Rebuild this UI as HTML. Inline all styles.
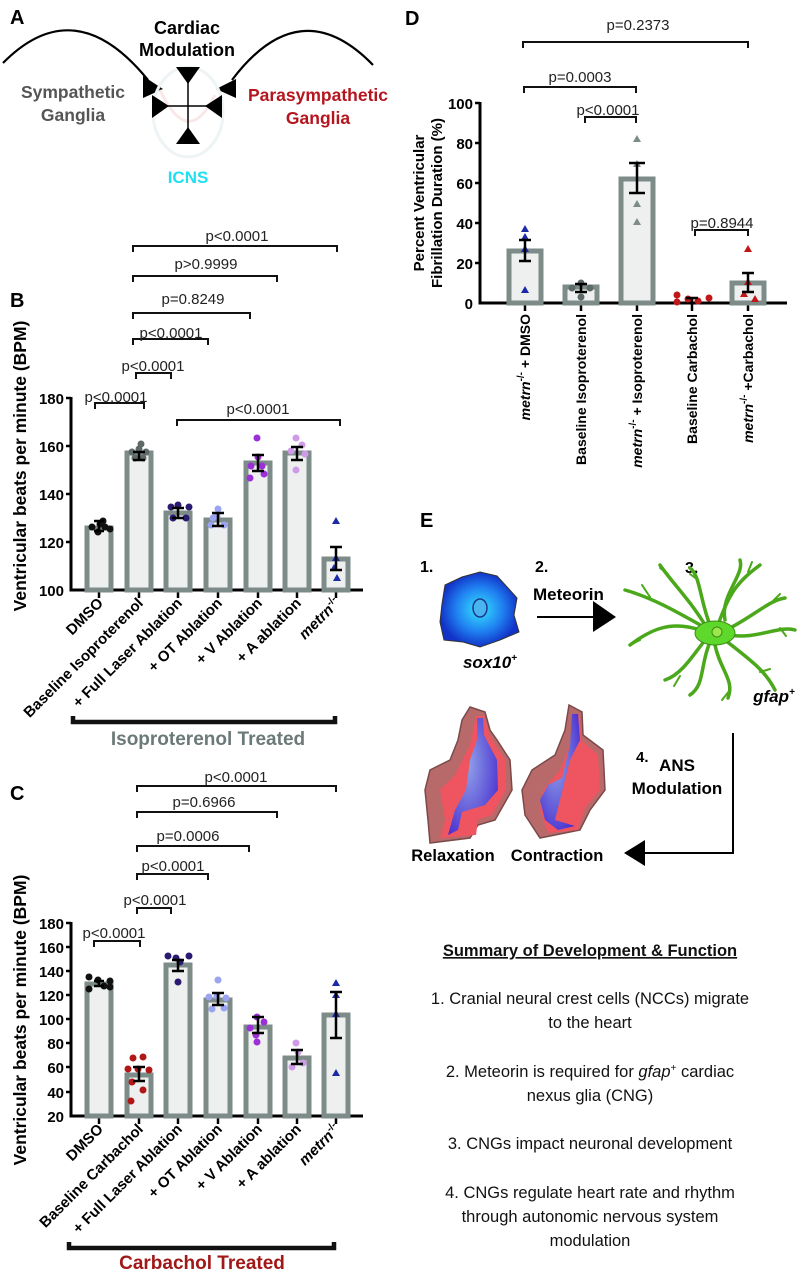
<!DOCTYPE html>
<html><head><meta charset="utf-8"><style>
html,body{margin:0;padding:0;background:#fff}
svg{display:block}
text{font-family:"Liberation Sans",Arial,sans-serif}
.b{font-weight:bold}
.p{font-size:15px;fill:#222}
.tk{font-size:15px;font-weight:bold;text-anchor:end}
.xl{font-size:15px;font-weight:bold;text-anchor:end}
.xd{font-size:14px;font-weight:bold;text-anchor:end}
.br{fill:none;stroke:#111;stroke-width:2}
.bar{fill:#eef0f0;stroke:#7d8b89;stroke-width:5}
.eb{stroke:#000;stroke-width:2.5;fill:none}
.ax{stroke:#000;stroke-width:3;fill:none}
.s{font-size:16.5px;text-anchor:middle;fill:#111}
</style></head><body>
<svg width="800" height="1279" viewBox="0 0 800 1279" xmlns="http://www.w3.org/2000/svg">
<defs>
<radialGradient id="cell" cx="50%" cy="50%" r="50%"><stop offset="0" stop-color="#35e4ff"/><stop offset="0.6" stop-color="#1f7ff0"/><stop offset="1" stop-color="#1233c8"/></radialGradient>
<radialGradient id="blu" cx="40%" cy="40%" r="70%"><stop offset="0" stop-color="#8fa2e8"/><stop offset="1" stop-color="#4a2fd0"/></radialGradient>
</defs>

<!-- PANEL A -->
<text x="10" y="24" class="b" font-size="20">A</text>
<path d="M3,63 Q75,-10 148,80" fill="none" stroke="#000" stroke-width="2.2"/>
<path d="M373,65 Q300,-10 232,80" fill="none" stroke="#000" stroke-width="2.2"/>
<polygon points="143,76 163,89 143,98" fill="#000"/>
<polygon points="236,79 216,89 236,98" fill="#000"/>
<ellipse cx="188" cy="112" rx="35" ry="45" fill="none" stroke="#eef3f5" stroke-width="3"/>
<path d="M160,90 Q188,150 215,95" fill="none" stroke="#f8e8e8" stroke-width="3"/>
<line x1="188" y1="72" x2="188" y2="140" stroke="#000" stroke-width="1.5"/>
<line x1="152" y1="106" x2="222" y2="106" stroke="#000" stroke-width="1.5"/>
<polygon points="176,67 200,67 188,84" fill="#000"/>
<polygon points="176,144 200,144 188,127" fill="#000"/>
<polygon points="152,95 152,118 169,106" fill="#000"/>
<polygon points="222,95 222,118 205,106" fill="#000"/>
<text x="187" y="34" class="b" font-size="18" text-anchor="middle">Cardiac</text>
<text x="187" y="56" class="b" font-size="18" text-anchor="middle">Modulation</text>
<text x="73" y="98" class="b" font-size="17.5" text-anchor="middle" fill="#555">Sympathetic</text>
<text x="73" y="121" class="b" font-size="17.5" text-anchor="middle" fill="#555">Ganglia</text>
<text x="318" y="101" class="b" font-size="17.5" text-anchor="middle" fill="#b5151e">Parasympathetic</text>
<text x="318" y="124" class="b" font-size="17.5" text-anchor="middle" fill="#b5151e">Ganglia</text>
<text x="188" y="183" class="b" font-size="17" text-anchor="middle" fill="#1fe0f0">ICNS</text>

<!-- PANEL B -->
<text x="10" y="307" class="b" font-size="20">B</text>
<path class="br" d="M133,252 V246 H337 V252"/><text x="237" y="241" class="p" text-anchor="middle">p&lt;0.0001</text>
<path class="br" d="M133,282 V276 H277 V282"/><text x="206" y="269" class="p" text-anchor="middle">p&gt;0.9999</text>
<path class="br" d="M133,319 V313 H250 V319"/><text x="193" y="304" class="p" text-anchor="middle">p=0.8249</text>
<path class="br" d="M133,345 V339 H208 V345"/><text x="171" y="338" class="p" text-anchor="middle">p&lt;0.0001</text>
<path class="br" d="M136,379 V373 H171 V379"/><text x="153" y="371" class="p" text-anchor="middle">p&lt;0.0001</text>
<path class="br" d="M95,409 V403 H144 V409"/><text x="116" y="402" class="p" text-anchor="middle">p&lt;0.0001</text>
<path class="br" d="M177,426 V420 H340 V426"/><text x="258" y="414" class="p" text-anchor="middle">p&lt;0.0001</text>

<text transform="translate(26,466) rotate(-90)" class="b" font-size="17.5" text-anchor="middle">Ventricular beats per minute (BPM)</text>
<g class="tk"><text x="64" y="404">180</text><text x="64" y="452">160</text><text x="64" y="500">140</text><text x="64" y="548">120</text><text x="64" y="596">100</text></g>
<path class="ax" d="M71,397 V590 H363"/>
<g stroke="#000" stroke-width="2.5"><line x1="66" y1="398" x2="71" y2="398"/><line x1="66" y1="446" x2="71" y2="446"/><line x1="66" y1="494" x2="71" y2="494"/><line x1="66" y1="542" x2="71" y2="542"/>
<line x1="99" y1="590" x2="99" y2="598"/><line x1="139" y1="590" x2="139" y2="598"/><line x1="178" y1="590" x2="178" y2="598"/><line x1="218" y1="590" x2="218" y2="598"/><line x1="258" y1="590" x2="258" y2="598"/><line x1="297" y1="590" x2="297" y2="598"/><line x1="336" y1="590" x2="336" y2="598"/></g>
<rect class="bar" x="87" y="528" width="24" height="62"/>
<rect class="bar" x="127" y="453" width="24" height="137"/>
<rect class="bar" x="166" y="513" width="24" height="77"/>
<rect class="bar" x="206" y="520" width="24" height="70"/>
<rect class="bar" x="246" y="463" width="24" height="127"/>
<rect class="bar" x="285" y="453" width="24" height="137"/>
<rect class="bar" x="324" y="559" width="24" height="31"/>
<g fill="#111"><circle cx="92" cy="527" r="3.5"/><circle cx="100" cy="524" r="3.5"/><circle cx="105" cy="527" r="3.5"/><circle cx="110" cy="529" r="3.5"/><circle cx="98" cy="532" r="3.5"/><circle cx="103" cy="521" r="3.5"/></g>
<g fill="#5e6a68"><circle cx="132" cy="452" r="3.5"/><circle cx="139" cy="449" r="3.5"/><circle cx="146" cy="452" r="3.5"/><circle cx="143" cy="458" r="3.5"/><circle cx="135" cy="458" r="3.5"/><circle cx="141" cy="444" r="3.5"/></g>
<g fill="#2a1a70"><circle cx="171" cy="507" r="3.5"/><circle cx="178" cy="505" r="3.5"/><circle cx="189" cy="507" r="3.5"/><circle cx="173" cy="518" r="3.5"/><circle cx="186" cy="518" r="3.5"/></g>
<g fill="#9aa4f0"><circle cx="218" cy="509" r="3.5"/><circle cx="217" cy="516" r="3.5"/><circle cx="211" cy="525" r="3.5"/><circle cx="224" cy="525" r="3.5"/><circle cx="213" cy="518" r="3.5"/></g>
<g fill="#9b30d8"><circle cx="257" cy="438" r="3.5"/><circle cx="251" cy="466" r="3.5"/><circle cx="262" cy="466" r="3.5"/><circle cx="250" cy="478" r="3.5"/><circle cx="264" cy="474" r="3.5"/><circle cx="258" cy="457" r="3.5"/></g>
<g fill="#cf9be8"><circle cx="296" cy="438" r="3.5"/><circle cx="302" cy="445" r="3.5"/><circle cx="291" cy="451" r="3.5"/><circle cx="305" cy="454" r="3.5"/><circle cx="296" cy="470" r="3.5"/></g>
<g fill="#1a2aa8"><polygon points="336,517 332,524 340,524"/><polygon points="336,554 332,561 340,561"/><polygon points="334,564 330,571 338,571"/><polygon points="337,574 333,581 341,581"/></g>
<g class="eb"><path d="M99,521V531M94,521H104M94,531H104"/><path d="M139,452V460M133,452H145M133,460H145"/><path d="M178,508V518M172,508H184M172,518H184"/><path d="M218,513V526M212,513H224M212,526H224"/><path d="M258,455V471M252,455H264M252,471H264"/><path d="M297,447V460M291,447H303M291,460H303"/><path d="M336,547V570M330,547H342M330,570H342"/></g>
<g class="xl">
<text transform="translate(104,604) rotate(-45)">DMSO</text>
<text transform="translate(144,604) rotate(-45)">Baseline Isoproterenol</text>
<text transform="translate(183,604) rotate(-45)">+ Full Laser Ablation</text>
<text transform="translate(223,604) rotate(-45)">+ OT Ablation</text>
<text transform="translate(263,604) rotate(-45)">+ V Ablation</text>
<text transform="translate(302,604) rotate(-45)">+ A ablation</text>
<text transform="translate(341,604) rotate(-45)"><tspan font-style="italic">metrn</tspan><tspan font-size="10" dy="-6">-/-</tspan></text>
</g>
<path d="M73,716 V722 H335 V716" fill="none" stroke="#111" stroke-width="4.5"/>
<text x="208" y="745" class="b" font-size="19" text-anchor="middle" fill="#6b7a78">Isoproterenol Treated</text>

<!-- PANEL C -->
<text x="10" y="800" class="b" font-size="20">C</text>
<path class="br" d="M137,792 V786 H336 V792"/><text x="236" y="782" class="p" text-anchor="middle">p&lt;0.0001</text>
<path class="br" d="M137,818 V812 H277 V818"/><text x="204" y="807" class="p" text-anchor="middle">p=0.6966</text>
<path class="br" d="M137,852 V846 H249 V852"/><text x="188" y="841" class="p" text-anchor="middle">p=0.0006</text>
<path class="br" d="M137,880 V874 H208 V880"/><text x="173" y="871" class="p" text-anchor="middle">p&lt;0.0001</text>
<path class="br" d="M137,914 V908 H171 V914"/><text x="155" y="905" class="p" text-anchor="middle">p&lt;0.0001</text>
<path class="br" d="M94,947 V941 H140 V947"/><text x="114" y="938" class="p" text-anchor="middle">p&lt;0.0001</text>
<text transform="translate(26,1020) rotate(-90)" class="b" font-size="17.5" text-anchor="middle">Ventricular beats per minute (BPM)</text>
<g class="tk"><text x="64" y="929">180</text><text x="64" y="953">160</text><text x="64" y="977">140</text><text x="64" y="1001">120</text><text x="64" y="1025">100</text><text x="64" y="1049">80</text><text x="64" y="1073">60</text><text x="64" y="1098">40</text><text x="64" y="1122">20</text></g>
<path class="ax" d="M71,922 V1116 H363"/>
<g stroke="#000" stroke-width="2.5"><line x1="66" y1="923" x2="71" y2="923"/><line x1="66" y1="947" x2="71" y2="947"/><line x1="66" y1="971" x2="71" y2="971"/><line x1="66" y1="995" x2="71" y2="995"/><line x1="66" y1="1019" x2="71" y2="1019"/><line x1="66" y1="1043" x2="71" y2="1043"/><line x1="66" y1="1067" x2="71" y2="1067"/><line x1="66" y1="1092" x2="71" y2="1092"/>
<line x1="99" y1="1116" x2="99" y2="1124"/><line x1="139" y1="1116" x2="139" y2="1124"/><line x1="178" y1="1116" x2="178" y2="1124"/><line x1="218" y1="1116" x2="218" y2="1124"/><line x1="258" y1="1116" x2="258" y2="1124"/><line x1="297" y1="1116" x2="297" y2="1124"/><line x1="336" y1="1116" x2="336" y2="1124"/></g>
<rect class="bar" x="87" y="984" width="24" height="132"/>
<rect class="bar" x="127" y="1075" width="24" height="41"/>
<rect class="bar" x="166" y="965" width="24" height="151"/>
<rect class="bar" x="206" y="1000" width="24" height="116"/>
<rect class="bar" x="246" y="1027" width="24" height="89"/>
<rect class="bar" x="285" y="1058" width="24" height="58"/>
<rect class="bar" x="324" y="1015" width="24" height="101"/>
<g fill="#111"><circle cx="89" cy="977" r="3.5"/><circle cx="98" cy="980" r="3.5"/><circle cx="110" cy="981" r="3.5"/><circle cx="89" cy="989" r="3.5"/><circle cx="104" cy="986" r="3.5"/><circle cx="110" cy="987" r="3.5"/></g>
<g fill="#b01818"><circle cx="133" cy="1058" r="3.5"/><circle cx="143" cy="1057" r="3.5"/><circle cx="128" cy="1069" r="3.5"/><circle cx="138" cy="1069" r="3.5"/><circle cx="149" cy="1070" r="3.5"/><circle cx="132" cy="1082" r="3.5"/><circle cx="143" cy="1090" r="3.5"/><circle cx="131" cy="1101" r="3.5"/></g>
<g fill="#2a1a70"><circle cx="168" cy="956" r="3.5"/><circle cx="176" cy="958" r="3.5"/><circle cx="189" cy="956" r="3.5"/><circle cx="180" cy="962" r="3.5"/><circle cx="178" cy="982" r="3.5"/></g>
<g fill="#9aa4f0"><circle cx="218" cy="980" r="3.5"/><circle cx="209" cy="997" r="3.5"/><circle cx="217" cy="996" r="3.5"/><circle cx="226" cy="998" r="3.5"/><circle cx="212" cy="1009" r="3.5"/><circle cx="224" cy="1008" r="3.5"/></g>
<g fill="#9b30d8"><circle cx="257" cy="1017" r="3.5"/><circle cx="264" cy="1022" r="3.5"/><circle cx="250" cy="1028" r="3.5"/><circle cx="256" cy="1035" r="3.5"/><circle cx="257" cy="1042" r="3.5"/></g>
<g fill="#cf9be8"><circle cx="296" cy="1043" r="3.5"/><circle cx="298" cy="1052" r="3.5"/><circle cx="292" cy="1067" r="3.5"/><circle cx="303" cy="1063" r="3.5"/></g>
<g fill="#1a2aa8"><polygon points="336,979 332,986 340,986"/><polygon points="336,991 332,998 340,998"/><polygon points="336,1010 332,1017 340,1017"/><polygon points="336,1069 332,1076 340,1076"/></g>
<g class="eb"><path d="M99,981V986M94,981H104M94,986H104"/><path d="M139,1067V1081M133,1067H145M133,1081H145"/><path d="M178,960V971M172,960H184M172,971H184"/><path d="M218,993V1005M212,993H224M212,1005H224"/><path d="M258,1017V1033M252,1017H264M252,1033H264"/><path d="M297,1050V1064M291,1050H303M291,1064H303"/><path d="M336,992V1038M330,992H342M330,1038H342"/></g>
<g class="xl">
<text transform="translate(104,1130) rotate(-45)">DMSO</text>
<text transform="translate(144,1130) rotate(-45)">Baseline Carbachol</text>
<text transform="translate(183,1130) rotate(-45)">+ Full Laser Ablation</text>
<text transform="translate(223,1130) rotate(-45)">+ OT Ablation</text>
<text transform="translate(263,1130) rotate(-45)">+ V Ablation</text>
<text transform="translate(302,1130) rotate(-45)">+ A ablation</text>
<text transform="translate(341,1130) rotate(-45)"><tspan font-style="italic">metrn</tspan><tspan font-size="10" dy="-6">-/-</tspan></text>
</g>
<path d="M69,1242 V1248 H334 V1242" fill="none" stroke="#111" stroke-width="4.5"/>
<text x="202" y="1269" class="b" font-size="19" text-anchor="middle" fill="#a01818">Carbachol Treated</text>

<!-- PANEL D -->
<text x="405" y="25" class="b" font-size="20">D</text>
<path class="br" d="M523,48 V42 H748 V48"/><text x="638" y="30" class="p" text-anchor="middle">p=0.2373</text>
<path class="br" d="M524,93 V87 H636 V93"/><text x="580" y="82" class="p" text-anchor="middle">p=0.0003</text>
<path class="br" d="M585,123 V117 H636 V123"/><text x="608" y="115" class="p" text-anchor="middle">p&lt;0.0001</text>
<path class="br" d="M695,236 V230 H748 V236"/><text x="722" y="228" class="p" text-anchor="middle">p=0.8944</text>
<text transform="translate(424,203) rotate(-90)" class="b" font-size="15" text-anchor="middle">Percent Ventricular</text>
<text transform="translate(442,203) rotate(-90)" class="b" font-size="15" text-anchor="middle">Fibrillation Duration (%)</text>
<g class="tk"><text x="473" y="109">100</text><text x="473" y="149">80</text><text x="473" y="189">60</text><text x="473" y="229">40</text><text x="473" y="269">20</text><text x="473" y="309">0</text></g>
<path class="ax" d="M480,102 V303 H787"/>
<g stroke="#000" stroke-width="2.5"><line x1="475" y1="103" x2="480" y2="103"/><line x1="475" y1="143" x2="480" y2="143"/><line x1="475" y1="183" x2="480" y2="183"/><line x1="475" y1="223" x2="480" y2="223"/><line x1="475" y1="263" x2="480" y2="263"/>
<line x1="525" y1="303" x2="525" y2="311"/><line x1="581" y1="303" x2="581" y2="311"/><line x1="637" y1="303" x2="637" y2="311"/><line x1="692" y1="303" x2="692" y2="311"/><line x1="748" y1="303" x2="748" y2="311"/></g>
<rect class="bar" x="509" y="251" width="32" height="52"/>
<rect class="bar" x="565" y="287" width="32" height="16"/>
<rect class="bar" x="621" y="179" width="32" height="124"/>
<rect class="bar" x="732" y="283" width="32" height="20"/>
<g fill="#1a2aa8"><polygon points="525,225 521,232 529,232"/><polygon points="525,233 521,240 529,240"/><polygon points="525,245 521,252 529,252"/><polygon points="525,286 521,293 529,293"/></g>
<g fill="#5e6a68"><circle cx="581" cy="283" r="3.5"/><circle cx="572" cy="288" r="3.5"/><circle cx="590" cy="288" r="3.5"/><circle cx="581" cy="297" r="3.5"/></g>
<g fill="#7d8b89"><polygon points="637,135 633,142 641,142"/><polygon points="637,160 633,167 641,167"/><polygon points="637,200 633,207 641,207"/><polygon points="637,218 633,225 641,225"/></g>
<g fill="#c01818"><circle cx="677" cy="295" r="3.5"/><circle cx="677" cy="302" r="3.5"/><circle cx="688" cy="299" r="3.5"/><circle cx="698" cy="301" r="3.5"/><circle cx="709" cy="298" r="3.5"/><polygon points="748,245 744,252 752,252"/><polygon points="744,290 740,297 748,297"/><polygon points="755,295 751,302 759,302"/><polygon points="748,278 744,285 752,285"/></g>
<g class="eb"><path d="M525,240V261M519,240H531M519,261H531"/><path d="M581,284V292M575,284H587M575,292H587"/><path d="M637,163V193M629,163H645M629,193H645"/><path d="M692,298V303M686,298H698"/><path d="M748,273V292M742,273H754M742,292H754"/></g>
<g class="xd">
<text transform="translate(530,314) rotate(-90)"><tspan font-style="italic">metrn</tspan><tspan font-size="10" dy="-6">-/-</tspan><tspan dy="6"> + DMSO</tspan></text>
<text transform="translate(586,314) rotate(-90)">Baseline Isoproterenol</text>
<text transform="translate(642,314) rotate(-90)"><tspan font-style="italic">metrn</tspan><tspan font-size="10" dy="-6">-/-</tspan><tspan dy="6"> + Isoproterenol</tspan></text>
<text transform="translate(697,314) rotate(-90)">Baseline Carbachol</text>
<text transform="translate(753,314) rotate(-90)"><tspan font-style="italic">metrn</tspan><tspan font-size="10" dy="-6">-/-</tspan><tspan dy="6"> +Carbachol</tspan></text>
</g>

<!-- PANEL E -->
<text x="420" y="527" class="b" font-size="20">E</text>
<text x="420" y="572" class="b" font-size="16">1.</text>
<text x="535" y="572" class="b" font-size="16">2.</text>
<text x="685" y="573" class="b" font-size="16">3.</text>
<text x="533" y="600" class="b" font-size="17">Meteorin</text>
<line x1="537" y1="617" x2="595" y2="617" stroke="#000" stroke-width="2"/>
<polygon points="593,601 616,617 593,632" fill="#000"/>
<polygon points="480,572 497,576 508,588 517,598 514,615 519,632 500,640 480,647 463,642 444,640 440,622 442,604 445,585 462,577" fill="url(#cell)" stroke="#333" stroke-width="1"/>
<ellipse cx="480" cy="608" rx="7" ry="9" fill="#4ab4f0" stroke="#1b3a8a" stroke-width="1.5"/>
<text x="490" y="668" class="b" font-size="17" text-anchor="middle" font-style="italic">sox10<tspan font-size="10" dy="-7">+</tspan></text>
<g stroke="#4aa81a" stroke-width="3.5" stroke-linecap="round" fill="none">
<path d="M715,633 C690,620 660,600 625,590"/>
<path d="M700,630 C670,620 650,630 630,645"/>
<path d="M705,625 C690,600 670,580 660,565"/>
<path d="M710,625 C700,600 700,575 690,568"/>
<path d="M718,625 C730,590 740,580 760,565"/>
<path d="M730,628 C755,615 770,600 785,598"/>
<path d="M730,635 C755,640 780,625 795,630"/>
<path d="M725,640 C750,660 765,670 775,690"/>
<path d="M715,645 C720,670 735,680 728,698"/>
<path d="M705,640 C690,660 680,675 665,680"/>
<path d="M710,642 C700,665 705,685 690,695"/>
<path d="M725,620 C720,595 745,575 740,560"/>
</g>
<g stroke="#4aa81a" stroke-width="2" stroke-linecap="round" fill="none">
<path d="M650,597 l-8,-12"/><path d="M640,640 l-10,5"/><path d="M668,574 l-8,-6"/><path d="M748,572 l4,-10"/><path d="M770,604 l10,-10"/><path d="M780,628 l6,8"/><path d="M760,672 l10,-3"/><path d="M730,690 l-8,10"/><path d="M680,676 l-6,10"/><path d="M698,580 l-8,-6"/></g>
<ellipse cx="715" cy="633" rx="20" ry="12" fill="#5ed82a" stroke="#3c8c14" stroke-width="1"/>
<circle cx="717" cy="632" r="5" fill="#9be84a" stroke="#3c8c14"/>
<text x="774" y="702" class="b" font-size="17" text-anchor="middle" font-style="italic">gfap<tspan font-size="10" dy="-7">+</tspan></text>
<!-- hearts -->
<g>
<path d="M470,707 L485,712 L490,730 L497,740 L510,760 L512,790 L495,820 L478,825 L470,838 L430,843 L428,820 L425,790 L430,770 L450,760 L458,740 L462,720 Z" fill="#b86a6a" stroke="#7a4a4a" stroke-width="1.5"/>
<path d="M484,716 L490,736 L505,760 L506,790 L492,815 L478,820 L476,835 L440,838 L445,820 L440,790 L455,775 L470,745 L476,716 Z" fill="#ee5560"/>
<path d="M483,718 L484,735 L497,760 L498,790 L485,805 L462,812 L458,830 L448,835 L455,810 L466,790 L470,760 L477,740 L477,718 Z" fill="url(#blu)"/>
<path d="M569,705 L582,712 L583,735 L603,750 L605,790 L590,810 L580,830 L540,838 L525,815 L522,790 L532,770 L555,755 L565,730 Z" fill="#b86a6a" stroke="#7a4a4a" stroke-width="1.5"/>
<path d="M580,715 L581,740 L598,755 L600,790 L585,808 L578,830 L548,833 L540,810 L543,790 L560,770 L572,740 L574,716 Z" fill="#ee5560"/>
<path d="M578,714 L580,740 L570,760 L565,780 L560,800 L555,820 L575,826 L558,830 L545,820 L540,800 L548,785 L562,778 L570,745 L572,714 Z" fill="url(#blu)"/>
</g>
<text x="453" y="861" class="b" font-size="16.5" text-anchor="middle">Relaxation</text>
<text x="557" y="861" class="b" font-size="16.5" text-anchor="middle">Contraction</text>
<text x="636" y="762" class="b" font-size="15">4.</text>
<text x="677" y="771" class="b" font-size="17" text-anchor="middle">ANS</text>
<text x="677" y="794" class="b" font-size="17" text-anchor="middle">Modulation</text>
<path d="M733,733 V853 H640" fill="none" stroke="#000" stroke-width="2"/>
<polygon points="645,840 624,853 645,866" fill="#000"/>

<!-- Summary -->
<text x="590" y="956" class="s b" text-decoration="underline">Summary of Development &amp; Function</text>
<text x="590" y="1004" class="s">1. Cranial neural crest cells (NCCs) migrate</text>
<text x="590" y="1028" class="s">to the heart</text>
<text x="590" y="1077" class="s">2. Meteorin is required for <tspan font-style="italic">gfap</tspan><tspan font-size="10" dy="-6">+</tspan><tspan dy="6"> cardiac</tspan></text>
<text x="590" y="1101" class="s">nexus glia (CNG)</text>
<text x="590" y="1149" class="s">3. CNGs impact neuronal development</text>
<text x="590" y="1198" class="s">4. CNGs regulate heart rate and rhythm</text>
<text x="590" y="1222" class="s">through autonomic nervous system</text>
<text x="590" y="1246" class="s">modulation</text>
</svg>
</body></html>
